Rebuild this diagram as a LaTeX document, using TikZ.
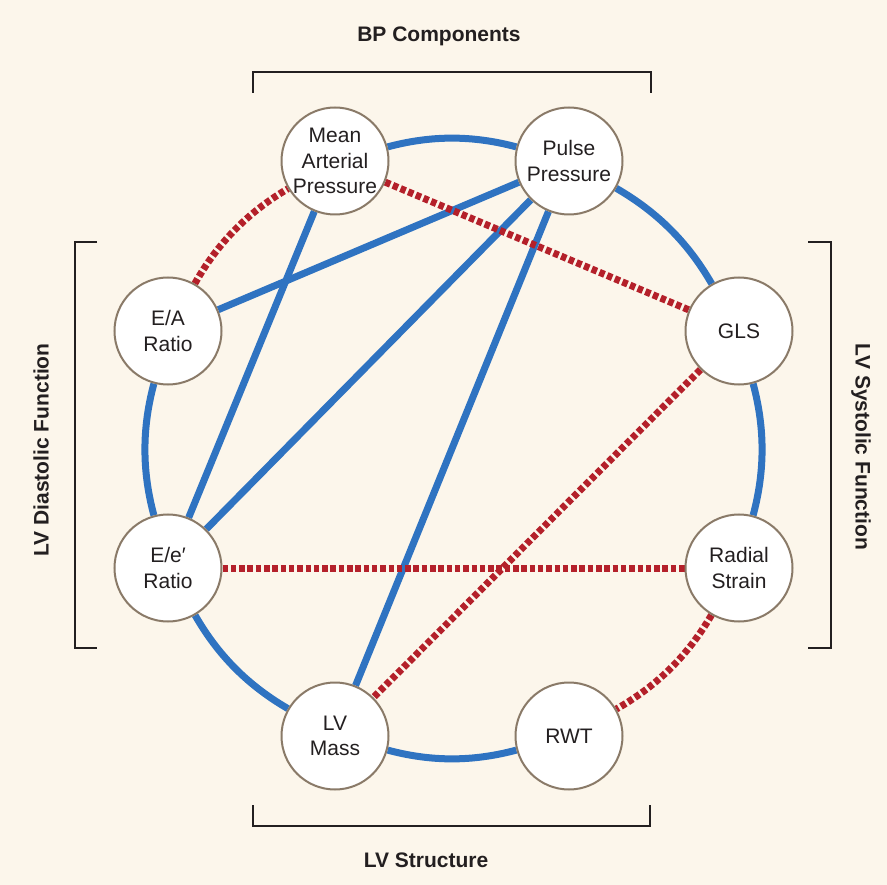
\documentclass[tikz,border=0pt]{standalone}
\usepackage{fontspec}
\setmainfont{Liberation Sans}
\usetikzlibrary{positioning}
\definecolor{bgcream}{HTML}{FCF6EB}
\definecolor{linkblue}{HTML}{2F73C1}
\definecolor{linkred}{HTML}{B4202A}
\definecolor{rimgray}{HTML}{8A7A68}
\definecolor{inkdark}{HTML}{231F20}
\pgfdeclarelayer{paper}
\pgfdeclarelayer{links}
\pgfsetlayers{paper,links,main}

\begin{document}
\begin{tikzpicture}[x=1pt, y=-1pt,
		var/.style={circle, draw=rimgray, line width=2pt, fill=white, minimum size=107pt, inner sep=0pt, align=center, text=inkdark, font=\fontsize{21}{25.5}\selectfont},
		poslink/.style={linkblue, line width=7pt},
		neglink/.style={linkred, line width=7pt, dash pattern=on 5.5pt off 2.8pt},
		rim/.style={bend left=15, looseness=0.9},
		grp/.style={inkdark, line width=2pt},
		grplabel/.style={text=inkdark, font=\fontsize{21}{25}\selectfont\bfseries}]
				\useasboundingbox (0,0) rectangle (887,885);
				\begin{pgfonlayer}{paper}
					\fill[bgcream] (0,0) rectangle (887,885);
				\end{pgfonlayer}
				
				\node[var] (MAP) at (335,161) {Mean\\Arterial\\Pressure};
				\node[var] (PP) at (569,161) {Pulse\\Pressure};
				\node[var] (GLS) at (739,331) {GLS};
				\node[var] (RS) at (739,568) {Radial\\Strain};
				\node[var] (RWT) at (569,736) {RWT};
				\node[var] (LVM) at (335,736) {LV\\Mass};
				\node[var] (EeR) at (168,568) {E/e′\\Ratio};
				\node[var] (EAR) at (168,331) {E/A\\Ratio};
				
				\begin{pgfonlayer}{links}
					\draw[poslink] (MAP) to[rim] (PP);
					\draw[poslink] (PP) to[rim] (GLS);
					\draw[poslink] (GLS) to[rim] (RS);
					\draw[neglink] (RS) to[rim] (RWT);
					\draw[poslink] (RWT) to[rim] (LVM);
					\draw[poslink] (LVM) to[rim] (EeR);
					\draw[poslink] (EeR) to[rim] (EAR);
					\draw[neglink] (EAR) to[rim] (MAP);
					
					\draw[poslink] (MAP) -- (EeR);
					\draw[poslink] (PP) -- (EAR);
					\draw[poslink] (PP) -- (EeR);
					\draw[poslink] (PP) -- (LVM);
					\draw[neglink] (MAP) -- (GLS);
					\draw[neglink] (GLS) -- (LVM);
					\draw[neglink] (EeR) -- (RS);
				\end{pgfonlayer}
				
				% group brackets
				\draw[grp] (253,93) -- (253,72) -- (651,72) -- (651,93);
				\draw[grp] (253,805) -- (253,826) -- (650,826) -- (650,805);
				\draw[grp] (97,242) -- (75,242) -- (75,648) -- (97,648);
				\draw[grp] (808,242) -- (831,242) -- (831,648) -- (808,648);
				
				\node[grplabel] (bp) at (439,36) {BP Components};
				\node[grplabel] (struct) at (426,860) {LV Structure};
				\node[grplabel, rotate=90] (dia) at (41,450) {LV Diastolic Function};
				\node[grplabel, rotate=-90] (sys) at (861,447) {LV Systolic Function};
			\end{tikzpicture}
\end{document}
